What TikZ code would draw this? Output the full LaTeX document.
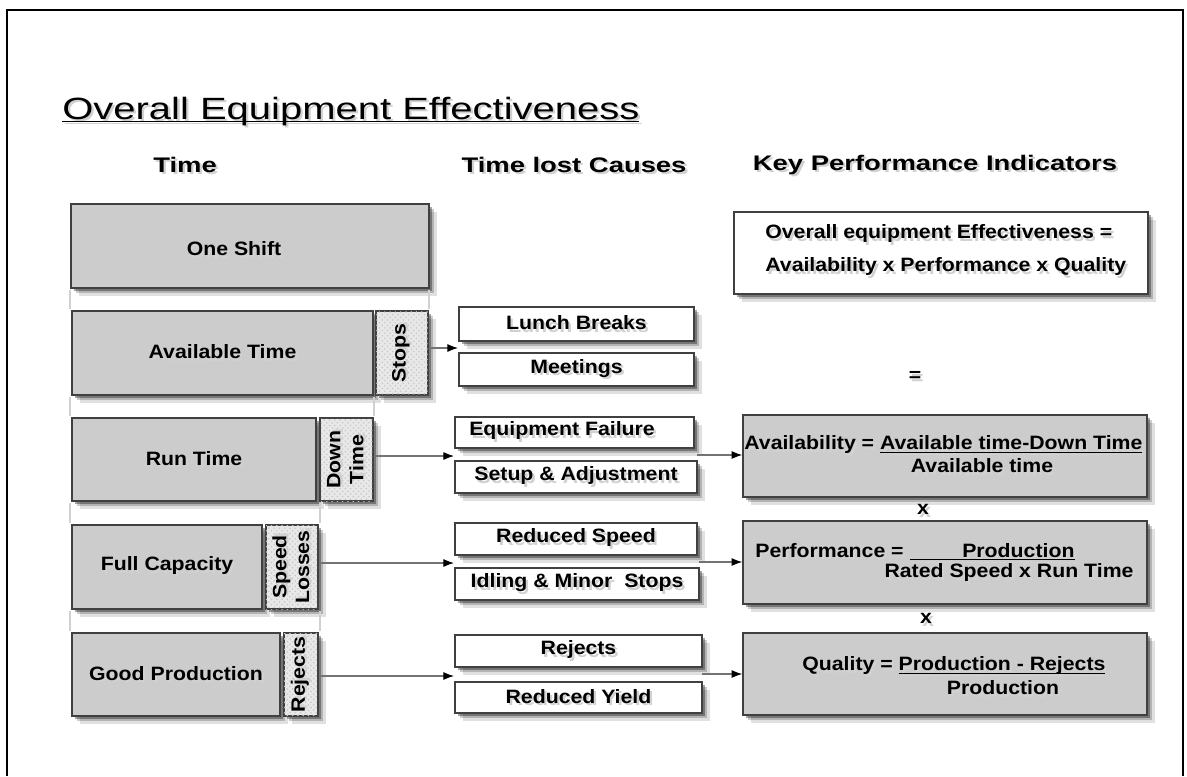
\documentclass[tikz,border=0pt]{standalone}
\usepackage{fontspec}
\setmainfont{Liberation Sans}[FakeStretch=1.1]
\newfontfamily\widesf{Liberation Sans}[FakeStretch=1.3]
\usetikzlibrary{fit,shadows,patterns,arrows.meta}

% grey copy behind the text
\newcommand\shd[1]{\rlap{\kern1.3pt\raisebox{-1.3pt}{\textcolor{black!18}{#1}}}#1}
\newcommand\uln[1]{\underline{\smash{#1}}}

\tikzset{
  soft/.style={drop shadow={shadow xshift=1.5pt,shadow yshift=-1.5pt,opacity=.35,fill=black},
               drop shadow={shadow xshift=3pt,shadow yshift=-3pt,opacity=.2,fill=black},
               drop shadow={shadow xshift=4.5pt,shadow yshift=-4.5pt,opacity=.12,fill=black}},
  box/.style={draw=black!75,line width=.9pt,inner sep=0pt,soft},
  gbox/.style={box,fill=black!20},
  lbox/.style={box,fill=black!9,postaction={pattern=crosshatch dots,pattern color=black!22}},
  wbox/.style={box,fill=white},
  txt/.style={inner sep=0pt,font=\bfseries\fontsize{11}{13}\selectfont},
  vtxt/.style={txt,rotate=90,align=center},
  head/.style={inner sep=0pt,font=\widesf\bfseries\fontsize{12}{14}\selectfont},
  guide/.style={draw=black!18,line width=1pt},
  conn/.style={draw=black!55,line width=.6pt,-{Latex[black,length=6pt,width=4.5pt]}},
}

\begin{document}
\begin{tikzpicture}[x=0.2mm,y=-0.2mm]
  \useasboundingbox (0,0) rectangle (1187,776);
  \draw[line width=1.2pt] (7,776) -- (7,10) -- (1183,10) -- (1183,776);

  % title and column heads
  \node[anchor=base west,inner sep=0pt,font=\widesf\fontsize{17.5}{20}\selectfont] (title) at (62,119)
    {\shd{\uln{Overall Equipment Effectiveness}}};
  \node[head] (htime) at (185,166) {\shd{Time}};
  \node[head] (hlost) at (574,166) {\shd{Time lost Causes}};
  \node[head] (hkpi) at (935,166) {\shd{Key Performance Indicators}};

  % time column
  \node[gbox,fit={(71,204) (429,288)}] (shift) {};
  \node[txt] (shifttxt) at (234,250) {\shd{One Shift}};
  \node[gbox,fit={(72,311) (373,395)}] (avail) {};
  \node[txt] (availtxt) at (avail) {\shd{Available Time}};
  \node[lbox,fit={(376,311) (428,395)}] (stops) {};
  \node[vtxt] (stopstxt) at (stops) {\shd{Stops}};
  \node[gbox,fit={(72,418) (316,501)}] (run) {};
  \node[txt] (runtxt) at (run) {\shd{Run Time}};
  \node[lbox,fit={(320,418) (373,501)}] (down) {};
  \node[vtxt] (downtxt) at (down) {\shd{Down}\\\shd{Time}};
  \node[gbox,fit={(72,525) (262,609)}] (full) {};
  \node[txt] (fulltxt) at (full) {\shd{Full Capacity}};
  \node[lbox,fit={(266,525) (318,609)}] (speed) {};
  \node[vtxt] (speedtxt) at (speed) {\shd{Speed}\\\shd{Losses}};
  \node[gbox,fit={(72,633) (280,716)}] (good) {};
  \node[txt] (goodtxt) at (good) {\shd{Good Production}};
  \node[lbox,fit={(284,633) (318,716)}] (rej) {};
  \node[vtxt] (rejtxt) at (rej) {\shd{Rejects}};

  \draw[guide] (70,290) -- (70,309) (429,290) -- (429,309);
  \draw[guide] (70,397) -- (70,416) (374,397) -- (374,416);
  \draw[guide] (70,503) -- (70,523) (320,503) -- (320,523);
  \draw[guide] (70,611) -- (70,631) (320,611) -- (320,631);

  % causes column
  \node[wbox,fit={(459,307) (694,341)}] (lunch) {};
  \node[txt] (lunchtxt) at (lunch) {\shd{Lunch Breaks}};
  \node[wbox,fit={(459,353) (694,386)}] (meet) {};
  \node[txt] (meettxt) at (meet) {\shd{Meetings}};
  \node[wbox,fit={(455,417) (694,448)}] (fail) {};
  \node[txt] (failtxt) at (562,432) {\shd{Equipment Failure}};
  \node[wbox,fit={(455,461) (697,493)}] (setup) {};
  \node[txt] (setuptxt) at (setup) {\shd{Setup \& Adjustment}};
  \node[wbox,fit={(455,523) (697,555)}] (rspeed) {};
  \node[txt] (rspeedtxt) at (rspeed) {\shd{Reduced Speed}};
  \node[wbox,fit={(455,568) (699,600)}] (idle) {};
  \node[txt] (idletxt) at (idle) {\shd{Idling \& Minor\ \ Stops}};
  \node[wbox,fit={(455,635) (702,667)}] (rejc) {};
  \node[txt] (rejctxt) at (rejc) {\shd{Rejects}};
  \node[wbox,fit={(455,682) (702,713)}] (yield) {};
  \node[txt] (yieldtxt) at (yield) {\shd{Reduced Yield}};

  % KPI column
  \node[wbox,fit={(734,212) (1148,294)}] (oee) {};
  \node[txt,anchor=west] (oeetxt) at (765,235) {\shd{Overall equipment Effectiveness =}};
  \node[txt,anchor=west] (oeeprod) at (765,268) {\shd{Availability x Performance x Quality}};
  \node[txt] (eq) at (915,378) {\shd{=}};
  \node[gbox,fit={(743,415) (1147,497)}] (availk) {};
  \node[txt,anchor=west] (availnum) at (744,446) {\shd{Availability = \uln{Available time-Down Time}}};
  \node[txt] (availden) at (982,467) {\shd{Available time}};
  \node[txt] (x1) at (923,511) {\shd{x}};
  \node[gbox,fit={(743,521) (1147,604)}] (perfk) {};
  \node[txt,anchor=west] (perfnum) at (755,553) {\shd{Performance = \uln{\hspace*{30pt}Production}}};
  \node[txt] (perfden) at (1009,574) {\shd{Rated Speed x Run Time}};
  \node[txt] (x2) at (926,620) {\shd{x}};
  \node[gbox,fit={(743,633) (1147,715)}] (qualk) {};
  \node[txt,anchor=west] (qualnum) at (802,667) {\shd{Quality = \uln{Production - Rejects}}};
  \node[txt] (qualden) at (1003,689) {\shd{Production}};

  % arrows
  \coordinate (ca) at (458,348);
  \coordinate (cb) at (454,456);
  \coordinate (cc) at (454,563);
  \coordinate (cd) at (454,676);
  \coordinate (ce) at (697,455);
  \coordinate (cf) at (699,562);
  \coordinate (cg) at (702,674);
  \draw[conn] (stops.east |- ca) -- (ca);
  \draw[conn] (down.east |- cb) -- (cb);
  \draw[conn] (speed.east |- cc) -- (cc);
  \draw[conn] (rej.east |- cd) -- (cd);
  \draw[conn] (ce) -- (availk.west |- ce);
  \draw[conn] (cf) -- (perfk.west |- cf);
  \draw[conn] (cg) -- (qualk.west |- cg);
\end{tikzpicture}
\end{document}
